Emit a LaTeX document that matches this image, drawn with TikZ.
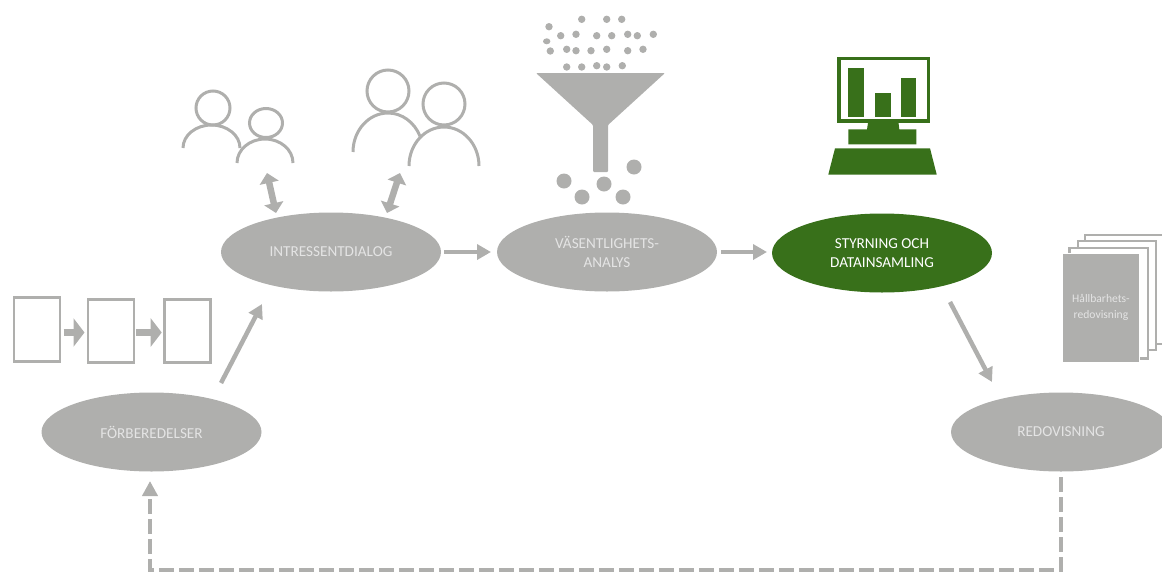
\documentclass[tikz,border=0pt]{standalone}
\usepackage{fontspec}
\setmainfont{Carlito}
\usetikzlibrary{shapes.geometric,arrows.meta}
\definecolor{grayc}{HTML}{AFAFAD}
\definecolor{greenc}{HTML}{38701A}
\definecolor{txtc}{HTML}{E4E4E4}
\tikzset{
  stage/.style={ellipse,fill=grayc,minimum width=220pt,minimum height=79pt,inner sep=0pt,align=center,text=txtc,font=\fontsize{15.2}{18.5}\selectfont},
  stagegreen/.style={stage,fill=greenc,text=white},
  flow/.style={draw=grayc,line width=4.5pt,-{Triangle[length=14pt,width=15pt]}},
  dflow/.style={draw=grayc,line width=4.6pt,dash pattern=on 15pt off 5pt,-{Triangle[length=15pt,width=15pt]}},
  both/.style={draw=grayc,line width=6.5pt,{Triangle[length=10pt,width=19pt]}-{Triangle[length=10pt,width=19pt]}},
  block/.style={draw=grayc,line width=7pt,-{Triangle[length=11pt,width=28pt]}},
  person/.style={draw=grayc,line width=3pt},
  page/.style={draw=grayc,line width=2.4pt,fill=white},
  dot/.style={fill=grayc},
}
\begin{document}
\begin{tikzpicture}[x=1pt,y=-1pt]
\useasboundingbox (0,0) rectangle (1162,571);
\clip (0,0) rectangle (1162,571);
% stages
\node[stage] (prep) at (151.5,432) {FÖRBEREDELSER};
\node[stage] (dial) at (331,252) {INTRESSENTDIALOG};
\node[stage] (anal) at (607,252) {VÄSENTLIGHETS-\\ANALYS};
\node[stagegreen] (styr) at (882,253) {STYRNING OCH\\DATAINSAMLING};
\node[stage] (redo) at (1061,432) {REDOVISNING};
% connector ends
\coordinate (a1) at (221,383); \coordinate (a2) at (262,304);
\coordinate (b1) at (444,252); \coordinate (b2) at (491,252);
\coordinate (c1) at (721,252); \coordinate (c2) at (767,252);
\coordinate (d1) at (950,302); \coordinate (d2) at (992,382);
\coordinate (e1) at (1061,477); \coordinate (e2) at (1061,570);
\coordinate (e3) at (150,570); \coordinate (e4) at (150,481);
\draw[flow] (a1) -- (a2);
\draw[flow] (b1) -- (b2);
\draw[flow] (c1) -- (c2);
\draw[flow] (d1) -- (d2);
\draw[dflow] (e1) -- (e2) -- (e3) -- (e4);
% persons
\coordinate (f1) at (267,173); \coordinate (f2) at (276,213);
\coordinate (g1) at (400,173); \coordinate (g2) at (387,213);
\draw[both] (f1) -- (f2);
\draw[both] (g1) -- (g2);
\draw[person] (213,108) circle[radius=17];
\draw[person] (183,148) arc[start angle=180,end angle=0,x radius=28.5,y radius=-23];
\draw[person] (266,123) ellipse[x radius=16.5,y radius=14.5];
\draw[person] (237,163) arc[start angle=180,end angle=0,x radius=28,y radius=-24];
\draw[person] (388,91) circle[radius=21];
\draw[person] (353,152) arc[start angle=180,end angle=24,x radius=35,y radius=-39];
\draw[person] (444,104) circle[radius=21];
\draw[person] (409,166) arc[start angle=180,end angle=0,x radius=35,y radius=-39];
% funnel
\fill[grayc,rounded corners=1pt] (536,73) -- (665,73) -- (608,125) -- (608,172) -- (593,172) -- (593,125) -- cycle;
\foreach \x/\y in {564/181,582/197,604/184,623/197,634/167}
  \fill[dot] (\x,\y) circle[radius=7.5];
\foreach \x/\y in {581.7/19.3,606.7/19.3,621.7/19.3,549/26.7,560.7/35.7,576/34.3,596.7/35.7,611.7/35.7,627.7/34.3,637.3/35.7,653.3/34.3,550.3/51,566.7/49.3,576/50.7,591/50.7,606.7/49.3,627.7/50.7,643/49.3,566.7/67,581.7/67,596.7/65.7,606.7/67,622.3/65.7}
  \fill[dot] (\x,\y) circle[radius=3.7];
\fill[dot] (546.7,41.3) ellipse[x radius=3.7,y radius=3];
% computer
\draw[greenc,line width=3.5pt] (839,58.5) rectangle (928.5,121);
\fill[greenc] (848.3,68.3) rectangle (864.3,117.3);
\fill[greenc] (875,93.3) rectangle (891,117.3);
\fill[greenc] (901,78.3) rectangle (916.3,117.3);
\fill[greenc] (868.3,121) -- (898.3,121) -- (899.3,129.3) -- (916.3,129.3) -- (916.3,144.3) -- (848.3,144.3) -- (848.3,129.3) -- (867,129.3) -- cycle;
\fill[greenc] (835,148.3) -- (930,148.3) -- (936.7,174.5) -- (828.3,174.5) -- cycle;
% report stack
\draw[page] (1085,235) rectangle (1170,344);
\draw[page] (1077.7,241) rectangle (1156,350);
\draw[page] (1069.3,247.7) rectangle (1147.7,358.3);
\node[fill=grayc,draw=white,line width=1pt,minimum width=77pt,minimum height=109pt,inner sep=0pt,align=center,text=txtc,font=\fontsize{11.6}{16}\selectfont] (rep) at (1101,307.8) {Hållbarhets-\\redovisning};
% paper flow
\node[page,minimum width=46pt,minimum height=64pt,inner sep=0pt] (p1) at (37,329.3) {};
\node[page,minimum width=46pt,minimum height=63pt,inner sep=0pt] (p2) at (110.8,331) {};
\node[page,minimum width=46pt,minimum height=63pt,inner sep=0pt] (p3) at (187.3,331) {};
\coordinate (h1) at (63.5,332.5); \coordinate (h2) at (84.5,332.5);
\coordinate (i1) at (136,332.5); \coordinate (i2) at (161.7,332.5);
\draw[block] (h1) -- (h2);
\draw[block] (i1) -- (i2);
\end{tikzpicture}
\end{document}
